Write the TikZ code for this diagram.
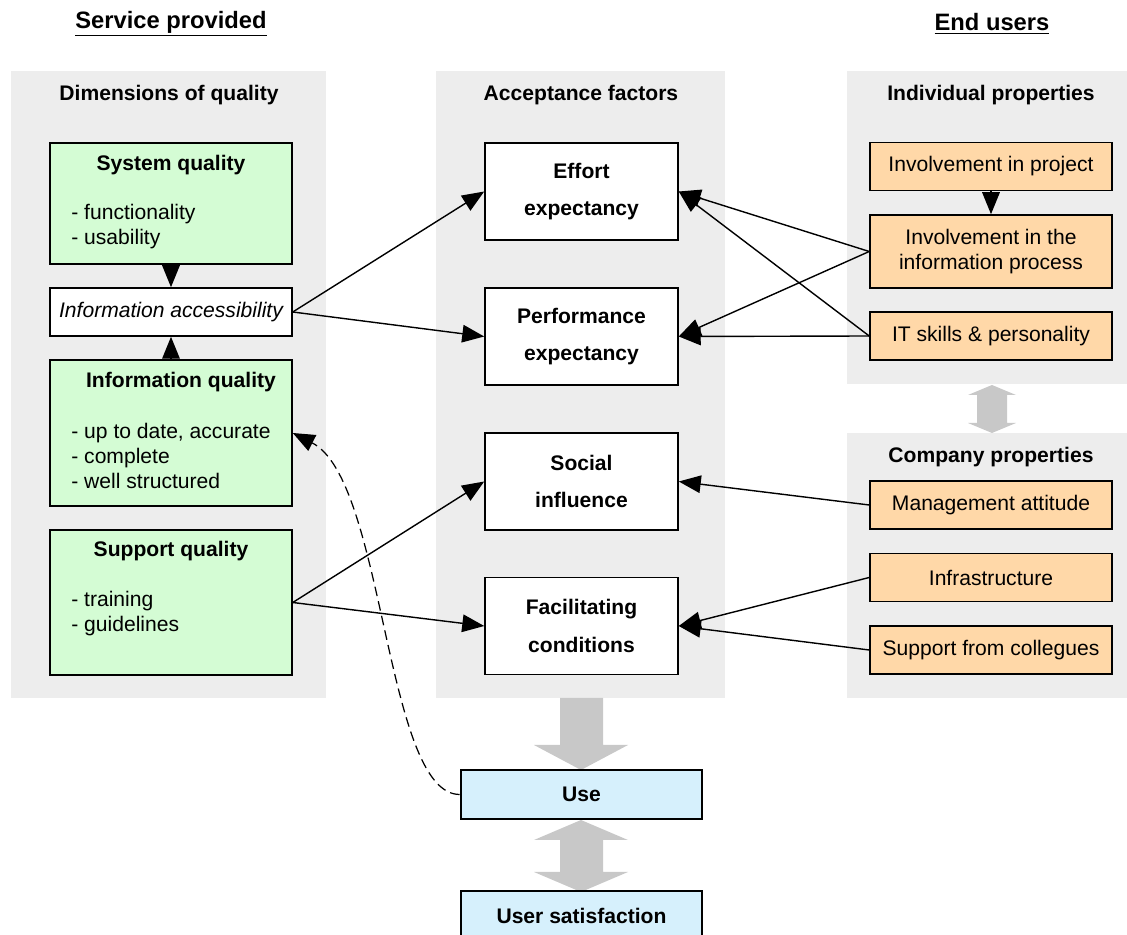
\documentclass[tikz,border=0pt]{standalone}
\usepackage{fontspec}
\setmainfont{Liberation Sans}
\usepackage{tikz}
\usetikzlibrary{arrows.meta}

\definecolor{panelgray}{RGB}{237,237,237}
\definecolor{arrowgray}{RGB}{200,200,200}
\definecolor{qualgreen}{RGB}{212,252,212}
\definecolor{userorange}{RGB}{255,216,168}
\definecolor{useblue}{RGB}{214,240,252}

\begin{document}
\begin{tikzpicture}[x=0.02cm,y=-0.02cm]
        \tikzstyle{every node} = [font=\fontsize{12}{14.2}\selectfont, inner sep=0pt]
        \tikzstyle{heading} = [font=\fontsize{12}{14.2}\selectfont\bfseries]
        \tikzstyle{title} = [font=\fontsize{13.5}{16}\selectfont\bfseries]
        \tikzstyle{qualbox} = [rectangle, draw, line width=0.9pt, fill=qualgreen, minimum width=4.84cm]
        \tikzstyle{factor} = [rectangle, draw, line width=0.9pt, fill=white, minimum width=3.86cm, minimum height=1.94cm,
                              align=center, font=\fontsize{12}{21.5}\selectfont\bfseries]
        \tikzstyle{userbox} = [rectangle, draw, line width=0.9pt, fill=userorange, minimum width=4.84cm, minimum height=0.96cm, align=center]
        \tikzstyle{usebox} = [rectangle, draw, line width=1.6pt, fill=useblue, minimum width=4.82cm, minimum height=0.98cm,
                              font=\fontsize{12}{14.2}\selectfont\bfseries]
        \tikzstyle{arr} = [-{Triangle[length=12.5pt,width=10pt]}, line width=0.8pt]
        \useasboundingbox (0,0) rectangle (1127,935);

        % panels
        \fill[panelgray] (11,71) rectangle (326,698);
        \fill[panelgray] (436,71) rectangle (725,698);
        \fill[panelgray] (847,71) rectangle (1127,384);
        \fill[panelgray] (847,433) rectangle (1127,698);

        % big gray arrows
        \fill[arrowgray] (560,698) -- (603,698) -- (603,745) -- (628,745) -- (581,770) -- (534,745) -- (560,745) -- cycle;
        \fill[arrowgray] (581,820) -- (628,840) -- (603,840) -- (603,872) -- (628,872) -- (581,892)
                         -- (534,872) -- (560,872) -- (560,840) -- (534,840) -- cycle;
        \fill[arrowgray] (992,385) -- (1016,395) -- (1007,395) -- (1007,423) -- (1016,423) -- (992,433)
                         -- (968,423) -- (977,423) -- (977,395) -- (968,395) -- cycle;

        % titles
        \node[title] (servtitle) at (171,24) {\underline{Service provided}};
        \node[title] (endtitle) at (992,24) {\underline{End users}};
        \node[heading] (dimhead) at (169,95) {Dimensions of quality};
        \node[heading] (acchead) at (581,95) {Acceptance factors};
        \node[heading] (indhead) at (991,95) {Individual properties};
        \node[heading] (comphead) at (991,457) {Company properties};

        % dimensions of quality
        \node (sysq) at (171,203.5) [qualbox, minimum height=2.42cm] {};
        \node[heading] at (171,165) {System quality};
        \node[anchor=west, align=left] at (71,226.5) {- functionality\\- usability};
        \node (access) at (171,312) [qualbox, fill=white, minimum height=0.96cm, font=\fontsize{12}{14.2}\selectfont\itshape] {Information accessibility};
        \node (infoq) at (171,433) [qualbox, minimum height=2.92cm] {};
        \node[heading] at (181,382) {Information quality};
        \node[anchor=west, align=left] at (71,456) {- up to date, accurate\\- complete\\- well structured};
        \node (suppq) at (171,602.5) [qualbox, minimum height=2.9cm] {};
        \node[heading] at (171,551) {Support quality};
        \node[anchor=west, align=left] at (71,613.5) {- training\\- guidelines};

        % acceptance factors
        \node (effort) at (581.5,191.5) [factor] {Effort\\expectancy};
        \node (perf) at (581.5,336.5) [factor] {Performance\\expectancy};
        \node (social) at (581.5,481.5) [factor] {Social\\influence};
        \node (facil) at (581.5,626) [factor] {Facilitating\\conditions};

        % use
        \node (use) at (581.5,794.5) [usebox] {Use};
        \node (satis) at (581.5,915.5) [usebox] {User satisfaction};

        % end users
        \node (invproj) at (991,166.5) [userbox] {Involvement in project};
        \node (invinfo) at (991,251.5) [userbox, minimum height=1.46cm] {Involvement in the\\information process};
        \node (itskill) at (991,336) [userbox] {IT skills \& personality};
        \node (mgmt) at (991,505) [userbox] {Management attitude};
        \node (infra) at (991,577.5) [userbox] {Infrastructure};
        \node (colleg) at (991,650) [userbox] {Support from collegues};

        \foreach \from/\to in {sysq.south/access.north, infoq.north/access.south, invproj.south/invinfo.north,
                               access.east/effort.west, access.east/perf.west, suppq.east/social.west, suppq.east/facil.west,
                               invinfo.west/effort.east, invinfo.west/perf.east, itskill.west/effort.east, itskill.west/perf.east,
                               mgmt.west/social.east, infra.west/facil.east, colleg.west/facil.east}
            \draw[arr] (\from) -- (\to);

        \draw[arr, line width=0.7pt, dash pattern=on 5.5pt off 3pt] (use.west) .. controls (385,794) and (385,480) .. (infoq.east);
\end{tikzpicture}
\end{document}
